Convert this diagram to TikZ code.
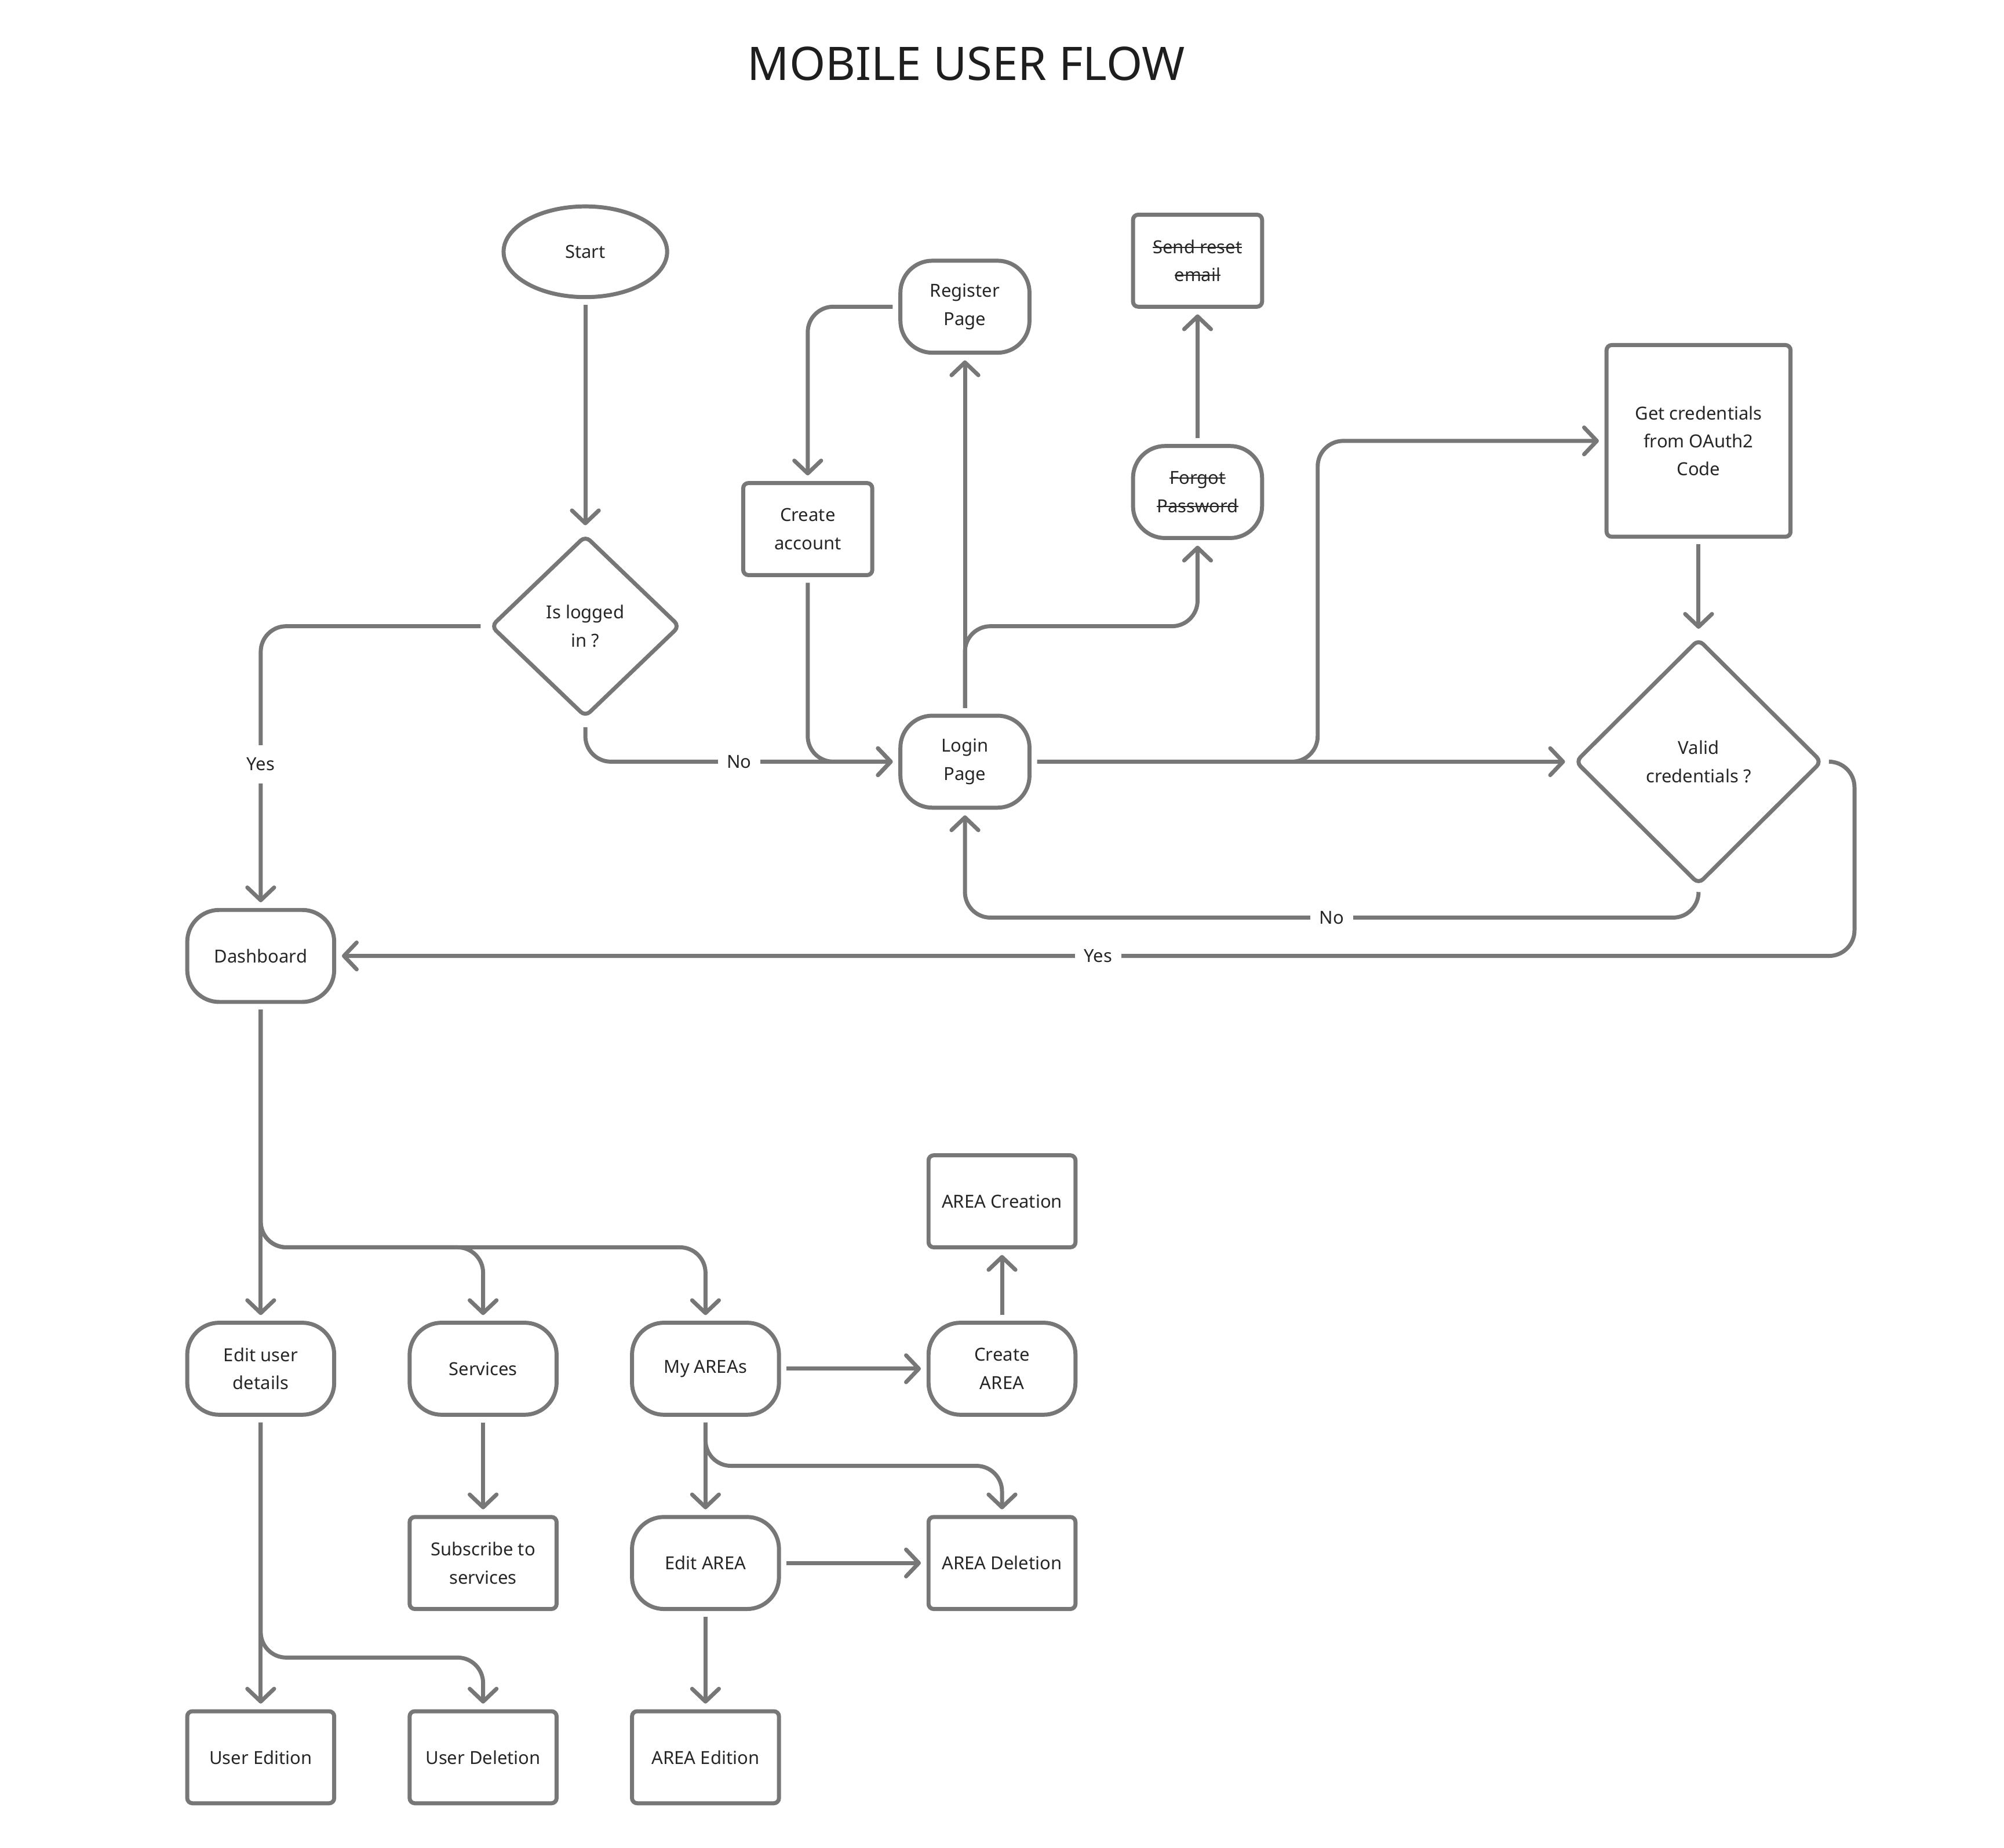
\documentclass[tikz,border=0pt]{standalone}
\usepackage{fontspec}
\setmainfont{Noto Sans}
\usetikzlibrary{shapes.geometric, arrows.meta}

\definecolor{linegrey}{HTML}{777777}
\definecolor{textgrey}{HTML}{262626}

%	struck through text
\newcommand{\strikeword}[1]{\setbox0\hbox{#1}\rlap{\rule[0.3em]{\wd0}{0.6pt}}\box0}

\tikzset{
	flow/.style = {draw = linegrey, line width = 1.8pt, text = textgrey, align = center, font = \fontsize{8}{12.5}\selectfont, outer sep = 0.12cm, inner sep = 0pt},
	page/.style = {flow, rounded corners = 0.5cm, minimum width = 2.02cm, minimum height = 1.44cm},
	box/.style = {flow, rounded corners = 0.08cm, minimum width = 2.02cm, minimum height = 1.44cm},
	wide/.style = {minimum width = 2.3cm},
	choice/.style = {flow, diamond, rounded corners = 0.1cm},
	link/.style = {draw = linegrey, line width = 1.8pt, rounded corners = 0.4cm, ->},
	answer/.style = {fill = white, text = textgrey, font = \fontsize{8}{12.5}\selectfont, inner xsep = 0.14cm, inner ysep = 0.2cm, sharp corners}
}

\begin{document}
\begin{tikzpicture}[x = 0.02cm, y = -0.02cm, >={Straight Barb[length = 2mm, width = 4.2mm, round]}]
				%	canvas
				\useasboundingbox (0, 0) rectangle (1568, 1446);
				
				\node[text = textgrey!80!black, font = \fontsize{20.6}{24}\selectfont] (title) at (756, 50) {MOBILE USER FLOW};
				
				%	login part
				\node[flow, ellipse, minimum width = 2.56cm, minimum height = 1.42cm] (start) at (458, 197) {Start};
				\node[choice, minimum width = 3.04cm, minimum height = 2.92cm] (logged) at (458, 490) {Is logged\\in ?};
				\node[page] (register) at (755, 240) {Register\\Page};
				\node[box] (sendreset) at (937, 204) {\strikeword{Send reset}\\\strikeword{email}};
				\node[page] (forgot) at (937, 385) {\strikeword{Forgot}\\\strikeword{Password}};
				\node[box] (create) at (632, 414) {Create\\account};
				\node[box, minimum width = 2.88cm, minimum height = 3cm] (oauth) at (1329, 345) {Get credentials\\from OAuth2\\Code};
				\node[choice, minimum width = 3.94cm, minimum height = 3.92cm] (valid) at (1329, 596) {Valid\\credentials ?};
				\node[page] (login) at (755, 596) {Login\\Page};
				\node[page, wide] (dash) at (204, 748) {Dashboard};
				
				%	dashboard part
				\node[page, wide] (edituser) at (204, 1071) {Edit user\\details};
				\node[page, wide] (services) at (378, 1071) {Services};
				\node[page, wide] (myareas) at (552, 1071) {My AREAs};
				\node[page, wide] (createarea) at (784, 1071) {Create\\AREA};
				\node[box, wide] (areacreation) at (784, 940) {AREA Creation};
				\node[box, wide] (subscribe) at (378, 1223) {Subscribe to\\services};
				\node[page, wide] (editarea) at (552, 1223) {Edit AREA};
				\node[box, wide] (areadel) at (784, 1223) {AREA Deletion};
				\node[box, wide] (useredition) at (204, 1375) {User Edition};
				\node[box, wide] (userdel) at (378, 1375) {User Deletion};
				\node[box, wide] (areaedition) at (552, 1375) {AREA Edition};
				
				%	bends
				\coordinate (fork) at (846, 490);
				\coordinate (jog) at (1031, 470);
				\coordinate (noback) at (1042, 718);
				\coordinate (yesturn) at (1451, 680);
				\coordinate (dbranch) at (290, 976);
				\coordinate (abranch) at (668, 1147);
				\coordinate (ubranch) at (290, 1297);
				
				%	arrows
				\draw[link] (start) -- (logged);
				\draw[link] (logged.west) -| node[answer, pos = 0.75]{Yes} (dash.north);
				\draw[link] (logged.south) |- node[answer, pos = 0.75]{No} (login.west);
				\draw[link] (register.west) -| (create.north);
				\draw[link] (create.south) |- (login.west);
				\draw[link] (login.north) -- (register.south);
				\draw[link] (login.north) |- (fork) -| (forgot.south);
				\draw[link] (forgot) -- (sendreset);
				\draw[link] (login.east) -| (jog) |- (oauth.west);
				\draw[link] (login.east) -- (valid.west);
				\draw[link] (oauth) -- (valid);
				\draw[link] (valid.south) |- (noback) node[answer]{No} -| (login.south);
				\draw[link] (valid.east) -| (yesturn) |- node[answer, pos = 0.75]{Yes} (dash.east);
				
				\draw[link] (dash) -- (edituser);
				\draw[link] (dash.south) |- (dbranch) -| (services.north);
				\draw[link] (dash.south) |- (dbranch) -| (myareas.north);
				\draw[link] (myareas) -- (createarea);
				\draw[link] (createarea) -- (areacreation);
				\draw[link] (services) -- (subscribe);
				\draw[link] (myareas) -- (editarea);
				\draw[link] (myareas.south) |- (abranch) -| (areadel.north);
				\draw[link] (editarea) -- (areadel);
				\draw[link] (editarea) -- (areaedition);
				\draw[link] (edituser) -- (useredition);
				\draw[link] (edituser.south) |- (ubranch) -| (userdel.north);
\end{tikzpicture}
\end{document}
